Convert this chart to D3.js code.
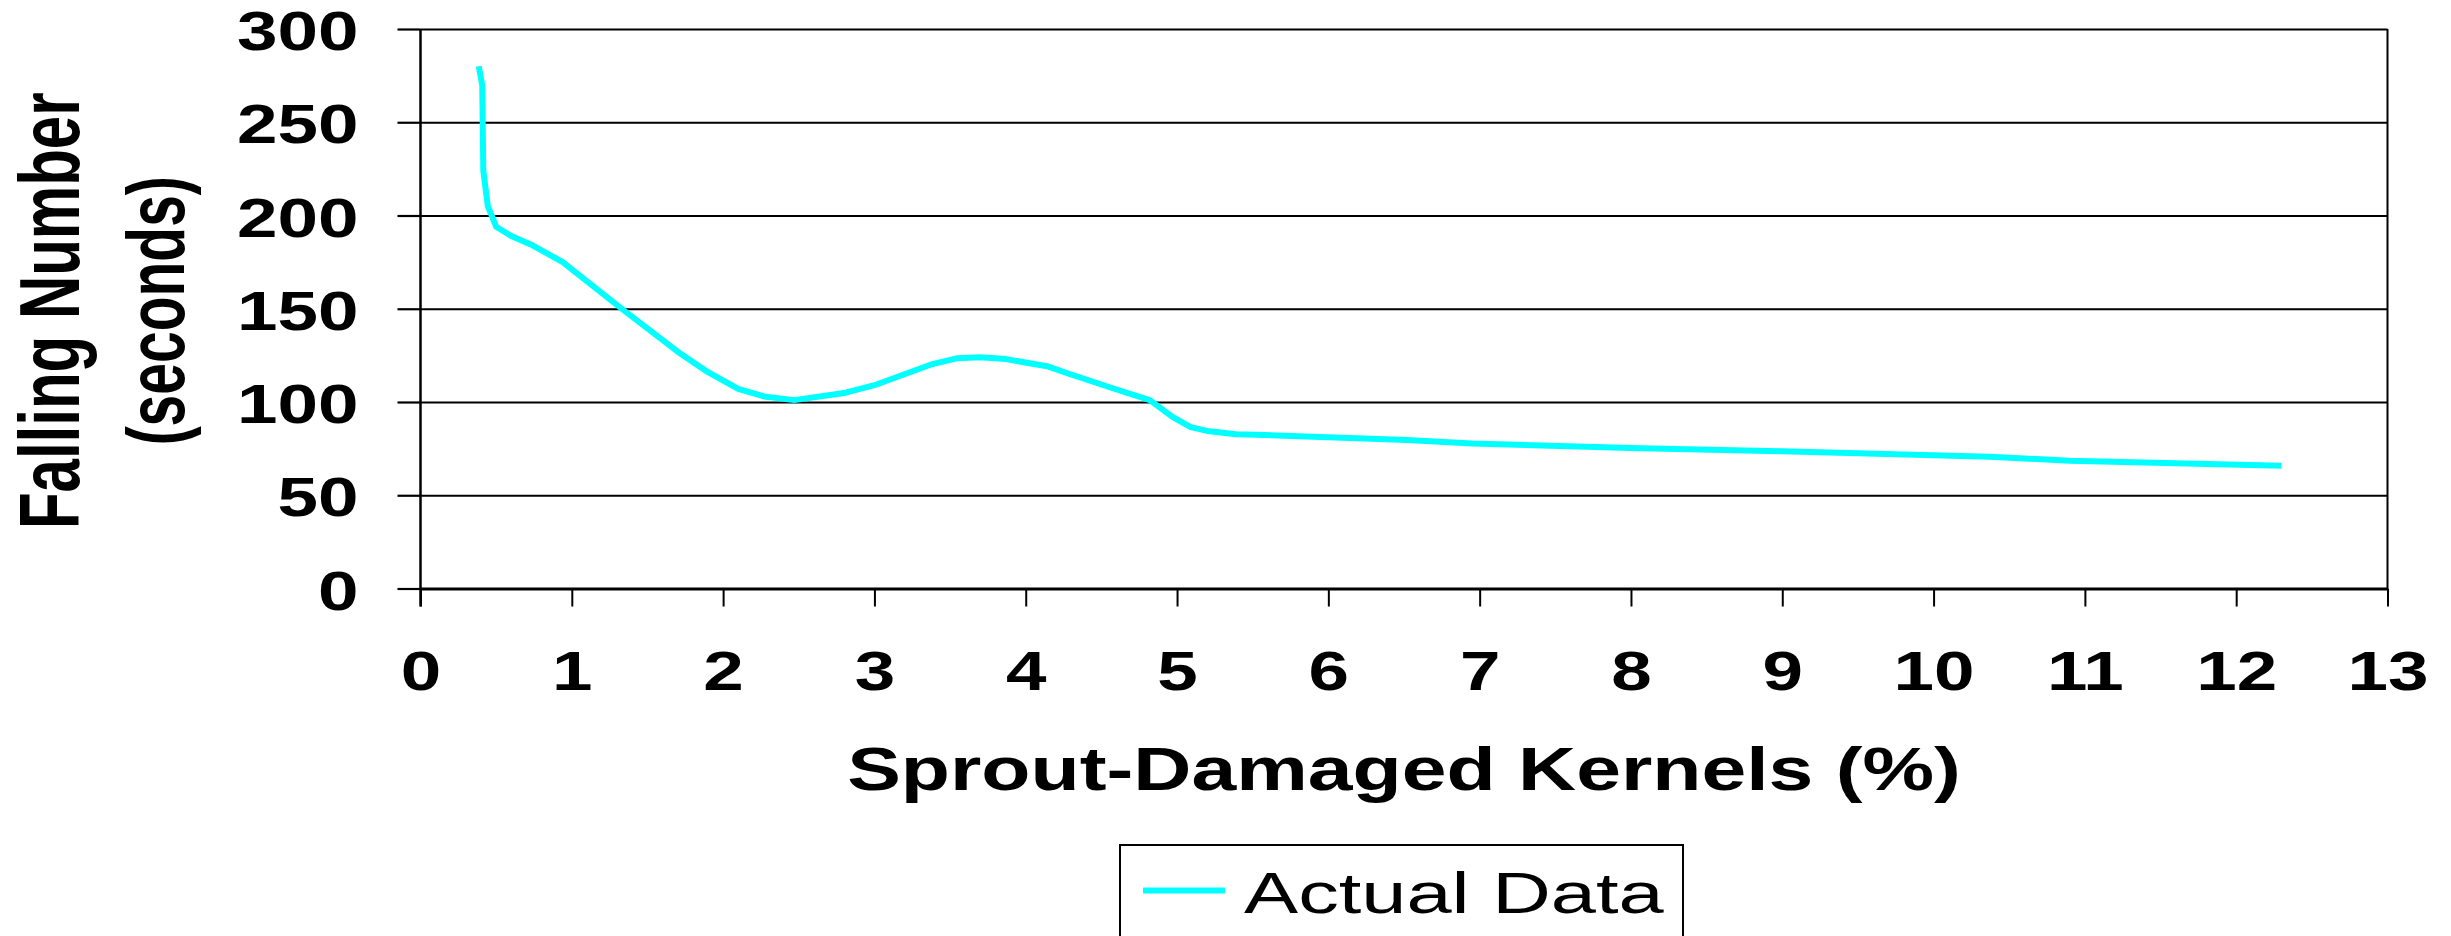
<!DOCTYPE html>
<html>
<head>
<meta charset="utf-8">
<script src="https://cdn.jsdelivr.net/npm/d3@7"></script>
<style>
  body { margin: 0; background: #ffffff; }
  text { font-family: "Liberation Sans", Arial, sans-serif; fill: #000000; }
</style>
</head>
<body>
<div id="chart"></div>
<script>
// values
var sproutDamaged = [0.385, 0.408, 0.415, 0.445, 0.50, 0.60, 0.74, 0.94, 1.33, 1.70, 1.90, 2.10,
  2.27, 2.47, 2.81, 3.00, 3.37, 3.55, 3.70, 3.87, 4.15, 4.29, 4.57, 4.82, 4.97, 5.09, 5.20,
  5.39, 5.52, 6.52, 6.95, 8.0, 9.0, 10.37, 10.90, 12.30];
var fallingNumber = [280, 270, 224, 205, 194, 189, 184, 175, 150, 127, 116, 107,
  103, 101, 105, 109, 120, 123.5, 124, 123, 119, 115, 107.5, 101, 92, 86.5, 84.5,
  82.7, 82.5, 79.6, 77.8, 75.3, 73.6, 70.7, 68.5, 65.8];
var xTicks = [0, 1, 2, 3, 4, 5, 6, 7, 8, 9, 10, 11, 12, 13];
var yTicks = [0, 50, 100, 150, 200, 250, 300];
var seriesName = "Actual Data";

var width = 2451;
var height = 936;
// note: "top" is taken by window.top, so use plot* names
var plotLeft = 420.5, plotRight = 2387.5, plotTop = 29, plotBottom = 588.5;
var stretch = 1.3;   // the original picture is stretched horizontally

var svg = d3.select("#chart")
  .append("svg")
  .attr("width", width)
  .attr("height", height);

var xScale = d3.scaleLinear().domain([0, 13]).range([plotLeft, plotRight]);
var yScale = d3.scaleLinear().domain([0, 300]).range([plotBottom, plotTop]);

// gridlines
var grid = svg.append("g")
  .attr("transform", "translate(" + plotLeft + ",0)")
  .call(d3.axisLeft(yScale).tickValues(yTicks).tickSize(-(plotRight - plotLeft)).tickFormat(""));
grid.select(".domain").remove();
grid.selectAll("line").attr("stroke", "#000").attr("stroke-width", 2.2);

// y axis ticks + labels
var yAxis = svg.append("g")
  .attr("transform", "translate(" + plotLeft + ",0)")
  .call(d3.axisLeft(yScale).tickValues(yTicks).tickSize(23).tickSizeOuter(0));
yAxis.select(".domain").remove();
yAxis.selectAll("line").attr("stroke", "#000").attr("stroke-width", 2.2);
yAxis.selectAll("text")
  .attr("x", 0)
  .attr("dy", "0.37em")
  .attr("transform", "translate(-62,0) scale(" + stretch + ",1)")
  .style("font-size", "56px")
  .style("font-weight", "bold")
  .style("font-family", "'Liberation Sans', Arial, sans-serif");

// x axis ticks + labels
var xAxis = svg.append("g")
  .attr("transform", "translate(0," + plotBottom + ")")
  .call(d3.axisBottom(xScale).tickValues(xTicks).tickSize(18).tickSizeOuter(0));
xAxis.select(".domain").attr("stroke", "#000").attr("stroke-width", 3);
xAxis.selectAll("line").attr("stroke", "#000").attr("stroke-width", 2);
xAxis.selectAll("text")
  .attr("x", 0)
  .attr("y", 0)
  .attr("dy", 0)
  .attr("transform", "translate(0,101.5) scale(" + stretch + ",1)")
  .style("font-size", "56px")
  .style("font-weight", "bold")
  .style("font-family", "'Liberation Sans', Arial, sans-serif");

// left axis line and right border
svg.append("line")
  .attr("x1", plotLeft).attr("x2", plotLeft)
  .attr("y1", plotTop).attr("y2", plotBottom + 18)
  .attr("stroke", "#000").attr("stroke-width", 2.5);
svg.append("line")
  .attr("x1", plotRight).attr("x2", plotRight)
  .attr("y1", plotTop).attr("y2", plotBottom)
  .attr("stroke", "#000").attr("stroke-width", 2);

// the series
var line = d3.line()
  .x(function(d, i) { return xScale(sproutDamaged[i]); })
  .y(function(d) { return yScale(d); });

svg.append("path")
  .datum(fallingNumber)
  .attr("d", line)
  .attr("fill", "none")
  .attr("stroke", "#00ffff")
  .attr("stroke-width", 6)
  .attr("stroke-linejoin", "round");

// axis titles
svg.append("text")
  .attr("transform", "translate(" + ((plotLeft + plotRight) / 2) + ",790) scale(1.32,1)")
  .attr("text-anchor", "middle")
  .style("font-size", "61px")
  .style("font-weight", "bold")
  .text("Sprout-Damaged Kernels (%)");

var midY = (plotTop + plotBottom) / 2 + 2;
svg.append("text")
  .attr("transform", "translate(79," + midY + ") scale(1.42,1) rotate(-90)")
  .attr("text-anchor", "middle")
  .style("font-size", "60px")
  .style("font-weight", "bold")
  .text("Falling Number");
svg.append("text")
  .attr("transform", "translate(184," + midY + ") scale(1.42,1) rotate(-90)")
  .attr("text-anchor", "middle")
  .style("font-size", "57px")
  .style("font-weight", "bold")
  .text("(seconds)");

// legend
var legend = svg.append("g");
legend.append("rect")
  .attr("x", 1120).attr("y", 845)
  .attr("width", 563).attr("height", 130)
  .attr("fill", "#fff")
  .attr("stroke", "#000")
  .attr("stroke-width", 2);
legend.append("line")
  .attr("x1", 1143).attr("x2", 1225)
  .attr("y1", 890.5).attr("y2", 890.5)
  .attr("stroke", "#00ffff")
  .attr("stroke-width", 6);
legend.append("text")
  .attr("transform", "translate(1244,913) scale(1.4,1)")
  .style("font-size", "58px")
  .text(seriesName);
</script>
</body>
</html>
